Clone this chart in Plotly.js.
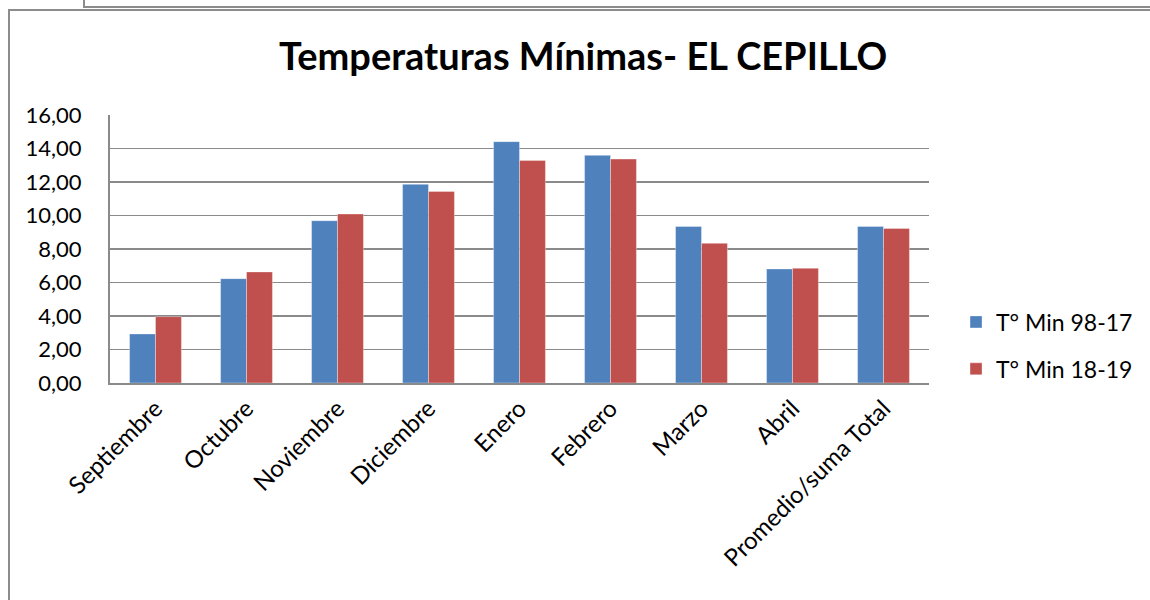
<!DOCTYPE html>
<html>
<head>
<meta charset="utf-8">
<script src="https://cdn.plot.ly/plotly-3.0.1.min.js"></script>
<style>
  html, body { margin: 0; padding: 0; background: #fff; }
  #wrap { position: relative; width: 1150px; height: 600px; }
  #chart { width: 1150px; height: 600px; }
  .ln { position: absolute; background: #8c8c8c; }
</style>
</head>
<body>
<div id="wrap">
  <div id="chart"></div>
  <div class="ln" style="left:83px;top:0;width:2px;height:8px;"></div>
  <div class="ln" style="left:83px;top:6px;width:1067px;height:2px;"></div>
  <div class="ln" style="left:8px;top:9px;width:1142px;height:2px;"></div>
  <div class="ln" style="left:8px;top:9px;width:2px;height:591px;"></div>
</div>
<script>
const categories = ["Septiembre", "Octubre", "Noviembre", "Diciembre", "Enero", "Febrero", "Marzo", "Abril", "Promedio/suma Total"];
const seriesNames = ["T° Min 98-17", "T° Min 18-19"];
const minHist = [2.93, 6.23, 9.69, 11.86, 14.41, 13.59, 9.35, 6.81, 9.35];
const min1819 = [3.96, 6.63, 10.09, 11.44, 13.29, 13.37, 8.34, 6.85, 9.23];
const colors = ["#4F81BD", "#C0504D"];

const FONT = "Lato, 'Open Sans', sans-serif";

const traces = [minHist, min1819].map((vals, i) => ({
  type: "bar",
  name: seriesNames[i],
  x: categories,
  y: vals,
  legendgroup: "g" + i,
  marker: { color: colors[i], line: { color: "rgba(255,255,255,0.35)", width: 1 } },
  hoverinfo: "x+y+name"
}));

const layout = {
  width: 1150,
  height: 600,
  margin: { l: 110, r: 217, t: 115, b: 217 },
  paper_bgcolor: "rgba(0,0,0,0)",
  plot_bgcolor: "#fff",
  separators: ",.",
  title: {
    text: "<b>Temperaturas Mínimas- EL CEPILLO</b>",
    font: { family: FONT, size: 38, color: "#000" },
    x: 0.507, xanchor: "center",
    y: 0.905, yanchor: "middle"
  },
  barmode: "group",
  bargap: 0.43,
  bargroupgap: 0,
  xaxis: {
    type: "category",
    tickangle: -45,
    tickfont: { family: FONT, size: 24, color: "#000" },
    showline: true, linecolor: "#8a8a8a", linewidth: 2,
    ticks: "", showgrid: false
  },
  yaxis: {
    range: [0, 16],
    dtick: 2,
    tickformat: ".2f",
    tickfont: { family: FONT, size: 22, color: "#000" },
    showline: true, linecolor: "#8a8a8a", linewidth: 2,
    showgrid: true, gridcolor: "#8a8a8a", gridwidth: 1.6,
    zeroline: false,
    ticks: "outside", ticklen: 0,
    ticklabelstandoff: 22
  },
  showlegend: true,
  legend: {
    x: 1.033, xanchor: "left",
    y: 0.14, yanchor: "middle",
    font: { family: FONT, size: 23, color: "#000" },
    tracegroupgap: 14,
    itemwidth: 30,
    bgcolor: "rgba(0,0,0,0)"
  }
};

Plotly.newPlot("chart", traces, layout, { displayModeBar: false, staticPlot: true });
</script>
</body>
</html>
